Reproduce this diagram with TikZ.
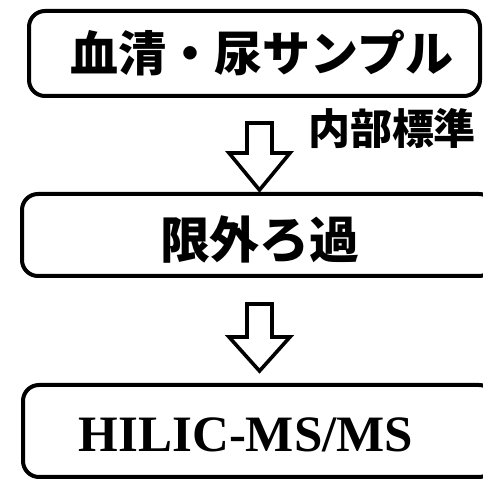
\documentclass[tikz,border=0pt]{standalone}
\usepackage{fontspec}
\setmainfont{Liberation Serif}
\newfontfamily\jp{Noto Sans CJK JP}
\begin{document}
\begin{tikzpicture}[x=1pt,y=-1pt,
  boxstyle/.style={draw=black,line width=4pt,rounded corners=16pt,inner sep=0pt},
  arrowstyle/.style={draw=black,line width=3.6pt,fill=white,line join=miter},
  jptext/.style={inner sep=0pt,font=\jp\bfseries},
  entext/.style={inner sep=0pt,font=\bfseries}]
\useasboundingbox (0,0) rectangle (483,481);
% boxes
\node[boxstyle,minimum width=451pt,minimum height=85pt] (b1) at (254.5,53.5) {};
\node[boxstyle,minimum width=473pt,minimum height=82pt] (b2) at (258.5,235) {};
\node[boxstyle,minimum width=472pt,minimum height=92pt] (b3) at (259,431) {};
% texts
\node[jptext,font=\jp\bfseries\fontsize{48}{48}\selectfont] (t1) at (262,53) {血清・尿サンプル};
\node[jptext,font=\jp\bfseries\fontsize{50}{50}\selectfont] (t2) at (260,240) {限外ろ過};
\node[entext,font=\bfseries\fontsize{51}{51}\selectfont] (t3) at (246,435) {HILIC-MS/MS};
\node[jptext,font=\jp\bfseries\fontsize{42}{42}\selectfont] (lab) at (392,128) {内部標準};
% hollow arrows from box to box
\coordinate (a1) at (259.5,123);
\coordinate (a2) at (259.5,304);
\draw[arrowstyle] (a1) ++(-12.5,0) -- ++(25,0) -- ++(0,30) -- ++(18,0) -- ++(-30.5,37)
  -- ++(-30.5,-37) -- ++(18,0) -- cycle;
\draw[arrowstyle] (a2) ++(-12.5,0) -- ++(25,0) -- ++(0,33) -- ++(18,0) -- ++(-30.5,34)
  -- ++(-30.5,-34) -- ++(18,0) -- cycle;
\end{tikzpicture}
\end{document}
